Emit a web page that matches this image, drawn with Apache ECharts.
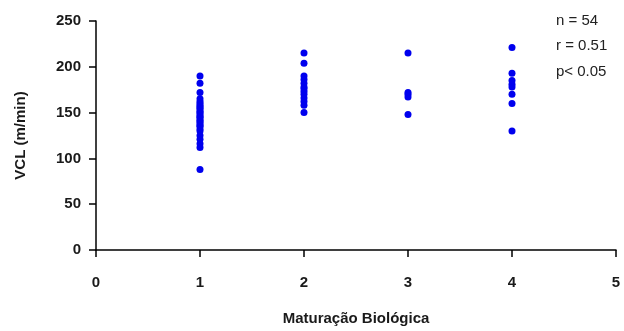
<!DOCTYPE html>
<html>
<head>
<meta charset="utf-8">
<script src="https://cdn.jsdelivr.net/npm/echarts@6/dist/echarts.min.js"></script>
<style>html,body{margin:0;padding:0;background:#fff}#c{width:624px;height:331px}</style>
</head>
<body>
<div id="c"></div>
<script>
// Data
const stage1 = [190, 182, 172, 165, 162, 160, 158, 156, 155, 153, 151, 150, 148, 146, 145, 143, 141, 140, 138, 136, 135, 132, 130, 125, 121, 116, 112, 88];
const stage2 = [215, 204, 190, 186, 182, 178, 176, 173, 170, 166, 162, 158, 150];
const stage3 = [215, 172, 170, 167, 148];
const stage4 = [221, 193, 185, 181, 178, 170, 160, 130];
const stages = [1, 2, 3, 4];
const groups = [stage1, stage2, stage3, stage4];
const xTicks = [0, 1, 2, 3, 4, 5];
const yTicks = [0, 50, 100, 150, 200, 250];
const statsLines = ['n = 54', 'r = 0.51', 'p< 0.05'];
const xTitle = 'Maturação Biológica';
const yTitle = 'VCL (m/min)';

const points = [];
groups.forEach((g, i) => g.forEach(v => points.push([stages[i], v])));

const font = '"Liberation Sans", Arial, sans-serif';
const chart = echarts.init(document.getElementById('c'), null, {renderer: 'canvas'});
chart.setOption({
  animation: false,
  backgroundColor: '#ffffff',
  grid: {left: 96, right: 8, top: 21, bottom: 79, containLabel: false},
  xAxis: {
    type: 'value', min: xTicks[0], max: xTicks[xTicks.length - 1], interval: 1,
    name: xTitle, nameLocation: 'middle', nameGap: 61,
    nameTextStyle: {fontFamily: font, fontWeight: 'bold', fontSize: 15, color: '#1a1a1a'},
    axisLine: {show: true, onZero: false, lineStyle: {color: '#000', width: 1.5}},
    axisTick: {show: true, inside: false, length: 7, lineStyle: {color: '#000', width: 1.5}},
    axisLabel: {margin: 25, fontFamily: font, fontWeight: 'bold', fontSize: 15, color: '#1a1a1a'},
    splitLine: {show: false}
  },
  yAxis: {
    type: 'value', min: yTicks[0], max: yTicks[yTicks.length - 1], interval: 50,
    name: yTitle, nameLocation: 'middle', nameGap: 68, nameRotate: 90,
    nameTextStyle: {fontFamily: font, fontWeight: 'bold', fontSize: 15, color: '#1a1a1a'},
    axisLine: {show: true, onZero: false, lineStyle: {color: '#000', width: 1.5}},
    axisTick: {show: true, inside: false, length: 7, lineStyle: {color: '#000', width: 1.5}},
    axisLabel: {margin: 15, fontFamily: font, fontWeight: 'bold', fontSize: 15, color: '#1a1a1a'},
    splitLine: {show: false}
  },
  graphic: statsLines.map((t, i) => ({
    type: 'text', left: 556, top: 13 + i * 25.5,
    style: {text: t, fontFamily: font, fontSize: 15, fill: '#222'}
  })),
  series: [{
    type: 'scatter',
    data: points,
    symbol: 'circle',
    symbolSize: 7,
    itemStyle: {color: '#0000ee', opacity: 1}
  }]
});
</script>
</body>
</html>
